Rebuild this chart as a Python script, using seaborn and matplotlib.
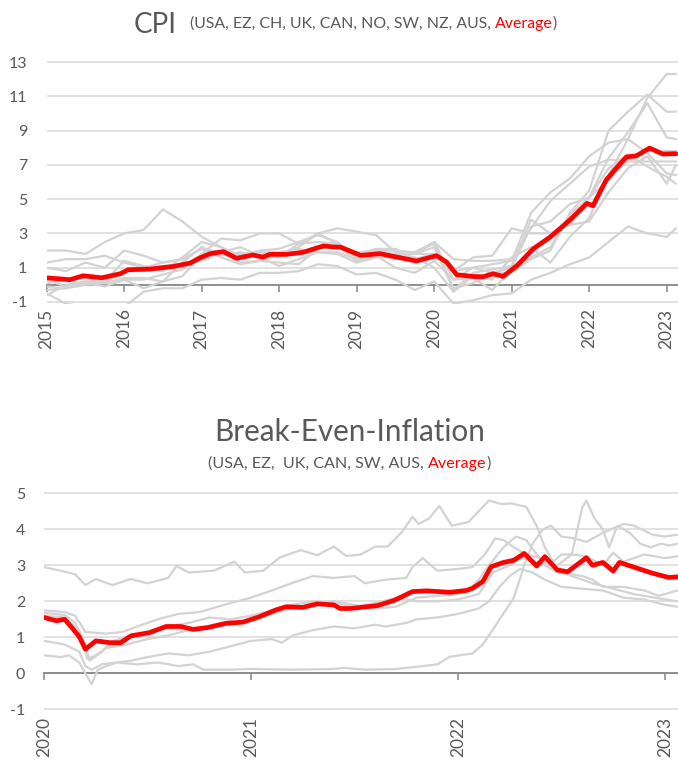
import matplotlib
matplotlib.use("Agg")
import matplotlib.pyplot as plt
import seaborn as sns
import pandas as pd

sns.set_theme(style="white")
plt.rcParams["font.family"] = ["Lato", "DejaVu Sans"]
plt.rcParams["axes.unicode_minus"] = False

# ---------------- CPI (y/y, %) ----------------
cpi_t = [2015.00, 2015.25, 2015.50, 2015.75, 2016.00, 2016.25, 2016.50, 2016.75,
         2017.00, 2017.25, 2017.50, 2017.75, 2018.00, 2018.25, 2018.50, 2018.75,
         2019.00, 2019.25, 2019.50, 2019.75, 2020.00, 2020.25, 2020.50, 2020.75,
         2021.00, 2021.25, 2021.50, 2021.75, 2022.00, 2022.25, 2022.50, 2022.75,
         2023.00, 2023.12]
cpi_usa = [-0.1, -0.2, 0.2, 0.2, 1.4, 1.1, 0.8, 1.6, 2.5, 2.2, 1.7, 2.0, 2.1, 2.5, 2.9, 2.5,
           1.6, 2.0, 1.8, 1.8, 2.5, 0.3, 1.0, 1.2, 1.4, 4.2, 5.4, 6.2, 7.5, 8.3, 8.5, 7.7, 6.5, 6.4]
cpi_ez = [-0.6, 0.0, 0.2, 0.1, 0.3, -0.2, 0.2, 0.5, 1.8, 1.9, 1.3, 1.4, 1.3, 1.2, 2.1, 2.3,
          1.4, 1.7, 1.0, 0.7, 1.4, 0.3, 0.4, -0.3, 0.9, 1.6, 2.2, 4.1, 5.1, 7.4, 8.9, 10.6, 8.6, 8.5]
cpi_ch = [-0.5, -1.1, -1.3, -1.4, -1.3, -0.4, -0.2, -0.2, 0.3, 0.4, 0.3, 0.7, 0.7, 0.8, 1.2, 1.1,
          0.6, 0.7, 0.3, -0.3, 0.2, -1.1, -0.9, -0.6, -0.5, 0.3, 0.7, 1.2, 1.6, 2.5, 3.4, 3.0, 2.8, 3.3]
cpi_uk = [0.3, -0.1, 0.1, -0.1, 0.3, 0.3, 0.6, 0.9, 1.8, 2.7, 2.6, 3.0, 3.0, 2.4, 2.5, 2.4,
          1.8, 2.1, 2.1, 1.5, 1.8, 0.8, 1.0, 0.7, 0.7, 1.5, 2.0, 4.2, 5.5, 9.0, 10.1, 11.1, 10.1, 10.1]
cpi_can = [1.0, 0.8, 1.3, 1.0, 2.0, 1.7, 1.3, 1.5, 2.1, 1.6, 1.2, 1.4, 1.7, 2.2, 3.0, 2.4,
           1.4, 2.0, 2.0, 1.9, 2.4, -0.2, 0.1, 0.7, 1.0, 3.4, 3.7, 4.7, 5.1, 6.8, 7.6, 6.9, 6.3, 5.9]
cpi_no = [2.0, 2.0, 1.8, 2.5, 3.0, 3.2, 4.4, 3.7, 2.8, 2.2, 1.5, 1.9, 1.6, 2.4, 3.0, 3.3,
          3.1, 2.9, 1.9, 1.8, 1.8, 0.8, 1.6, 1.7, 3.3, 3.0, 3.0, 3.5, 3.7, 5.4, 6.8, 7.5, 5.9, 7.0]
cpi_sw = [-0.3, -0.2, 0.0, 0.1, 0.8, 0.8, 1.1, 1.2, 1.4, 1.9, 2.2, 1.7, 1.6, 1.9, 2.2, 2.3,
          1.9, 2.0, 1.6, 1.6, 1.0, -0.4, 0.5, 0.3, 1.6, 2.2, 1.3, 2.8, 3.9, 6.4, 8.5, 10.9, 12.3, 12.3]
cpi_nz = [0.1, 0.3, 0.4, 0.1, 0.4, 0.4, 0.2, 1.3, 2.2, 1.7, 1.9, 1.6, 1.1, 1.5, 1.9, 1.9,
          1.5, 1.7, 1.5, 1.9, 2.5, 1.5, 1.4, 1.4, 1.5, 3.3, 4.9, 5.9, 6.9, 7.3, 7.2, 7.2, 7.2, 7.2]
cpi_aus = [1.3, 1.5, 1.5, 1.7, 1.3, 1.0, 1.3, 1.5, 2.1, 1.9, 1.8, 1.9, 1.9, 2.1, 1.9, 1.8,
           1.3, 1.6, 1.7, 1.8, 2.2, -0.3, 0.7, 0.9, 1.1, 3.8, 3.0, 3.5, 5.1, 6.1, 7.3, 7.8, 7.8, 7.8]

cpi_avg_t = [2015.00, 2015.30, 2015.47, 2015.71, 2015.95, 2016.05, 2016.33, 2016.63, 2016.85,
             2016.98, 2017.11, 2017.28, 2017.45, 2017.66, 2017.79, 2017.88, 2018.10, 2018.31,
             2018.57, 2018.70, 2018.79, 2019.05, 2019.30, 2019.77, 2020.03, 2020.16, 2020.29,
             2020.50, 2020.63, 2020.76, 2020.89, 2021.07, 2021.28, 2021.50, 2021.75, 2021.97,
             2022.05, 2022.22, 2022.35, 2022.48, 2022.61, 2022.78, 2022.95, 2023.12]
cpi_avg_v = [0.41, 0.30, 0.53, 0.41, 0.65, 0.88, 0.92, 1.07, 1.27, 1.58, 1.82, 1.94, 1.55, 1.74,
             1.62, 1.78, 1.78, 1.90, 2.27, 2.21, 2.20, 1.72, 1.82, 1.39, 1.70, 1.33, 0.59, 0.49,
             0.47, 0.65, 0.49, 1.13, 2.11, 2.80, 3.78, 4.75, 4.62, 6.12, 6.81, 7.46, 7.53, 7.98,
             7.63, 7.65]

cpi_series = {"USA": cpi_usa, "EZ": cpi_ez, "CH": cpi_ch, "UK": cpi_uk, "CAN": cpi_can,
              "NO": cpi_no, "SW": cpi_sw, "NZ": cpi_nz, "AUS": cpi_aus}
cpi_years = [2015, 2016, 2017, 2018, 2019, 2020, 2021, 2022, 2023]
cpi_yticks = [-1, 1, 3, 5, 7, 9, 11, 13]

# ---------------- Break-even inflation (%) ----------------
be_uk_t = [2020.00, 2020.08, 2020.15, 2020.20, 2020.25, 2020.33, 2020.42, 2020.50, 2020.60, 2020.64,
           2020.70, 2020.82, 2020.92, 2020.97, 2021.06, 2021.14, 2021.24, 2021.32, 2021.40, 2021.46,
           2021.53, 2021.60, 2021.66, 2021.73, 2021.78, 2021.81, 2021.86, 2021.91, 2021.97, 2022.05,
           2022.10, 2022.15, 2022.21, 2022.26, 2022.33, 2022.38, 2022.42, 2022.46, 2022.50, 2022.55,
           2022.60, 2022.62, 2022.66, 2022.70, 2022.73, 2022.77, 2022.83, 2022.88, 2022.93, 2022.98,
           2023.02, 2023.06]
be_uk_v = [2.95, 2.85, 2.75, 2.45, 2.62, 2.45, 2.62, 2.50, 2.65, 2.98, 2.80, 2.85, 3.10, 2.80,
           2.85, 3.22, 3.42, 3.28, 3.52, 3.26, 3.30, 3.52, 3.52, 3.93, 4.35, 4.15, 4.30, 4.65,
           4.10, 4.20, 4.50, 4.80, 4.70, 4.72, 4.62, 4.10, 3.50, 3.10, 3.30, 3.30, 4.60, 4.80,
           4.30, 4.00, 3.50, 4.10, 3.90, 3.60, 3.50, 3.60, 3.55, 3.60]
be_usa_t = [2020.00, 2020.10, 2020.15, 2020.20, 2020.30, 2020.38, 2020.45, 2020.55, 2020.65, 2020.75,
            2020.90, 2021.00, 2021.10, 2021.22, 2021.30, 2021.40, 2021.50, 2021.55, 2021.65, 2021.75,
            2021.78, 2021.83, 2021.90, 2022.00, 2022.07, 2022.13, 2022.18, 2022.22, 2022.27, 2022.33,
            2022.40, 2022.48, 2022.55, 2022.62, 2022.70, 2022.75, 2022.80, 2022.90, 2023.00, 2023.06]
be_usa_v = [1.75, 1.70, 1.60, 1.15, 1.10, 1.15, 1.30, 1.50, 1.65, 1.70, 1.95, 2.10, 2.30, 2.55,
            2.70, 2.65, 2.70, 2.50, 2.60, 2.65, 2.95, 3.20, 2.85, 2.90, 2.95, 3.30, 3.75, 3.70,
            3.50, 3.30, 3.20, 3.00, 3.30, 3.25, 3.00, 3.35, 3.10, 3.30, 3.20, 3.25]
be_can_t = [2020.00, 2020.10, 2020.15, 2020.20, 2020.22, 2020.28, 2020.33, 2020.40, 2020.50, 2020.60,
            2020.70, 2020.80, 2020.90, 2021.00, 2021.10, 2021.20, 2021.30, 2021.40, 2021.50, 2021.60,
            2021.70, 2021.80, 2021.90, 2022.00, 2022.10, 2022.17, 2022.25, 2022.30, 2022.35, 2022.42,
            2022.48, 2022.55, 2022.60, 2022.65, 2022.70, 2022.80, 2022.90, 2022.97, 2023.06]
be_can_v = [1.68, 1.62, 1.40, 0.80, 0.35, 0.60, 0.90, 1.00, 1.15, 1.30, 1.40, 1.55, 1.50, 1.60,
            1.75, 1.90, 2.00, 1.95, 1.85, 1.95, 2.10, 2.00, 2.00, 2.05, 2.20, 2.80, 3.00, 3.20,
            3.15, 3.00, 2.80, 2.75, 2.70, 2.60, 2.40, 2.40, 2.30, 2.15, 2.30]
be_ez_t = [2020.00, 2020.10, 2020.17, 2020.20, 2020.23, 2020.28, 2020.35, 2020.42, 2020.50, 2020.60,
           2020.70, 2020.80, 2020.90, 2021.00, 2021.10, 2021.15, 2021.20, 2021.30, 2021.40, 2021.50,
           2021.60, 2021.65, 2021.75, 2021.80, 2021.90, 2022.00, 2022.10, 2022.15, 2022.20, 2022.25,
           2022.30, 2022.36, 2022.42, 2022.50, 2022.60, 2022.70, 2022.80, 2022.90, 2023.00, 2023.06]
be_ez_v = [0.90, 0.80, 0.60, 0.20, 0.10, 0.25, 0.30, 0.35, 0.45, 0.55, 0.50, 0.60, 0.75, 0.90,
           0.95, 0.85, 1.05, 1.20, 1.30, 1.25, 1.35, 1.30, 1.40, 1.50, 1.55, 1.65, 1.80, 2.00,
           2.40, 2.70, 2.90, 2.80, 2.60, 2.40, 2.35, 2.30, 2.10, 2.05, 1.90, 1.85]
be_sw_t = [2020.00, 2020.08, 2020.12, 2020.17, 2020.20, 2020.23, 2020.26, 2020.30, 2020.35, 2020.45,
           2020.55, 2020.65, 2020.72, 2020.77, 2020.90, 2021.00, 2021.20, 2021.40, 2021.45, 2021.55,
           2021.70, 2021.80, 2021.90, 2021.96, 2022.07, 2022.12, 2022.19, 2022.27, 2022.32, 2022.36,
           2022.41, 2022.45, 2022.50, 2022.56, 2022.62, 2022.70, 2022.80, 2022.85, 2022.94, 2023.00,
           2023.06]
be_sw_v = [0.50, 0.45, 0.50, 0.30, 0.00, -0.30, 0.10, 0.20, 0.30, 0.25, 0.30, 0.20, 0.25, 0.10,
           0.10, 0.12, 0.10, 0.12, 0.15, 0.10, 0.12, 0.18, 0.25, 0.46, 0.55, 0.80, 1.40, 2.10,
           3.00, 3.60, 4.00, 4.10, 3.80, 3.75, 3.65, 3.90, 4.15, 4.10, 3.85, 3.80, 3.85]
be_aus_t = [2020.00, 2020.10, 2020.17, 2020.21, 2020.25, 2020.30, 2020.40, 2020.50, 2020.60, 2020.70,
            2020.80, 2020.90, 2021.00, 2021.10, 2021.20, 2021.30, 2021.40, 2021.50, 2021.60, 2021.70,
            2021.80, 2021.90, 2022.00, 2022.05, 2022.10, 2022.15, 2022.22, 2022.28, 2022.33, 2022.38,
            2022.45, 2022.55, 2022.65, 2022.75, 2022.85, 2022.95, 2023.06]
be_aus_v = [1.60, 1.55, 1.20, 0.40, 0.50, 0.70, 0.80, 0.95, 1.05, 1.20, 1.30, 1.35, 1.50, 1.65,
            1.80, 1.95, 2.00, 1.90, 1.80, 1.85, 2.10, 2.15, 2.20, 2.30, 2.60, 3.00, 3.50, 3.80,
            3.70, 3.30, 2.90, 2.70, 2.50, 2.35, 2.20, 2.10, 2.00]

be_avg_t = [2020.00, 2020.06, 2020.10, 2020.13, 2020.17, 2020.20, 2020.22, 2020.25, 2020.32, 2020.37,
            2020.42, 2020.51, 2020.59, 2020.66, 2020.72, 2020.79, 2020.88, 2020.96, 2021.04, 2021.12,
            2021.17, 2021.25, 2021.32, 2021.40, 2021.43, 2021.48, 2021.61, 2021.69, 2021.78, 2021.85,
            2021.96, 2022.04, 2022.07, 2022.12, 2022.16, 2022.22, 2022.27, 2022.32, 2022.38, 2022.42,
            2022.48, 2022.53, 2022.62, 2022.65, 2022.70, 2022.75, 2022.78, 2022.86, 2022.94, 2023.02,
            2023.06]
be_avg_v = [1.55, 1.46, 1.50, 1.30, 1.02, 0.67, 0.76, 0.90, 0.85, 0.85, 1.04, 1.13, 1.30, 1.30,
            1.22, 1.27, 1.39, 1.42, 1.57, 1.76, 1.85, 1.83, 1.93, 1.90, 1.80, 1.80, 1.88, 2.02,
            2.27, 2.29, 2.25, 2.30, 2.36, 2.55, 2.96, 3.08, 3.14, 3.33, 2.98, 3.24, 2.87, 2.82,
            3.21, 3.00, 3.08, 2.84, 3.08, 2.93, 2.78, 2.66, 2.68]

be_series = {"UK": (be_uk_t, be_uk_v), "USA": (be_usa_t, be_usa_v), "CAN": (be_can_t, be_can_v),
             "EZ": (be_ez_t, be_ez_v), "SW": (be_sw_t, be_sw_v), "AUS": (be_aus_t, be_aus_v)}
be_years = [2020, 2021, 2022, 2023]
be_yticks = [-1, 0, 1, 2, 3, 4, 5]

# ---------------- build tables ----------------
cpi_df = pd.concat([pd.DataFrame({"t": cpi_t, "v": vals, "country": name})
                    for name, vals in cpi_series.items()], ignore_index=True)
be_df = pd.concat([pd.DataFrame({"t": t, "v": v, "country": name})
                   for name, (t, v) in be_series.items()], ignore_index=True)

GREY = "#d3d3d3"
RED = "#ff0000"
TXT = "#595959"
GRID = "#d9d9d9"
AXIS = "#878787"

W, H = 678, 765
fig = plt.figure(figsize=(W / 100, H / 100), dpi=100)


def px_axes(left, top, right, bottom):
    return fig.add_axes([left / W, 1 - bottom / H, (right - left) / W, (bottom - top) / H])


ax1 = px_axes(46.7, 60.3, 678, 303.7)
ax2 = px_axes(44, 491.5, 678, 711.1)

sns.lineplot(data=cpi_df, x="t", y="v", units="country", estimator=None, color=GREY,
             lw=1.6, ax=ax1, legend=False, sort=False)
sns.lineplot(x=cpi_avg_t, y=cpi_avg_v, color=RED, lw=3.4, ax=ax1, sort=False)

sns.lineplot(data=be_df, x="t", y="v", units="country", estimator=None, color=GREY,
             lw=1.6, ax=ax2, legend=False, sort=False)
sns.lineplot(x=be_avg_t, y=be_avg_v, color=RED, lw=3.4, ax=ax2, sort=False)


def style(ax, xticks, yticks, xlim, ylim, xpad, ypad):
    ax.set_xlim(*xlim)
    ax.set_ylim(*ylim)
    ax.set_xticks(xticks)
    ax.set_xticklabels([str(x) for x in xticks])
    ax.set_yticks(yticks)
    ax.set_yticklabels([str(y) for y in yticks])
    ax.set_xlabel("")
    ax.set_ylabel("")
    ax.grid(axis="y", color=GRID, lw=1.1)
    ax.grid(axis="x", visible=False)
    ax.set_axisbelow(True)
    for s in ["top", "right", "left"]:
        ax.spines[s].set_visible(False)
    sp = ax.spines["bottom"]
    sp.set_position(("data", 0))
    sp.set_color(AXIS)
    sp.set_linewidth(1.3)
    sp.set_zorder(1)
    ax.tick_params(axis="x", direction="out", length=5, width=1.1, color=AXIS,
                   pad=xpad, labelsize=12.5, labelcolor=TXT, bottom=True,
                   labelrotation=90)
    ax.tick_params(axis="y", length=0, pad=ypad, labelsize=11.5, labelcolor=TXT)
    ax.patch.set_alpha(0)


style(ax1, cpi_years, cpi_yticks, (2015, 2023.146), (-1.1, 13.1), 12, 14)
style(ax2, be_years, be_yticks, (2020, 2023.063), (-1.05, 5.05), 26.5, 13.5)

# ---------------- titles ----------------
fig.text(134 / W, 1 - 33 / H, "CPI", fontsize=20, color=TXT, ha="left", va="baseline")
s1 = fig.text(190 / W, 1 - 31 / H, "(USA, EZ, CH, UK, CAN, NO, SW, NZ, AUS, ",
              fontsize=11.4, color=TXT, ha="left", va="bottom")
s2 = ax1.annotate("Average", xy=(1, 0), xycoords=s1, fontsize=11.4, color=RED,
                  ha="left", va="bottom", annotation_clip=False)
ax1.annotate(")", xy=(1, 0), xycoords=s2, fontsize=11.4, color=TXT,
             ha="left", va="bottom", annotation_clip=False)

fig.text(350 / W, 1 - 441 / H, "Break-Even-Inflation", fontsize=21.3, color=TXT,
         ha="center", va="baseline")
b1 = fig.text(208 / W, 1 - 471 / H, "(USA, EZ,  UK, CAN, SW, AUS, ",
              fontsize=11.6, color=TXT, ha="left", va="bottom")
b2 = ax2.annotate("Average", xy=(1, 0), xycoords=b1, fontsize=11.6, color=RED,
                  ha="left", va="bottom", annotation_clip=False)
ax2.annotate(")", xy=(1, 0), xycoords=b2, fontsize=11.6, color=TXT,
             ha="left", va="bottom", annotation_clip=False)

fig.savefig("out.png", dpi=100)
